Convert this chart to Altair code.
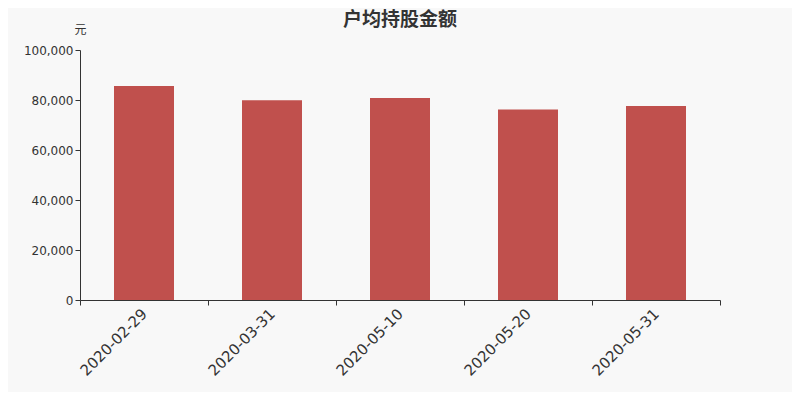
import altair as alt
import pandas as pd

dates = ["2020-02-29", "2020-03-31", "2020-05-10", "2020-05-20", "2020-05-31"]
values = [85600, 79900, 80800, 76200, 77600]

df = pd.DataFrame({"date": dates, "value": values})

FONT = "DejaVu Sans, Noto Sans CJK SC"

chart = alt.Chart(df).mark_bar(color="#c0504d", size=60).encode(
    x=alt.X("date:N", sort=dates, title=None,
            scale=alt.Scale(paddingInner=0, paddingOuter=0),
            axis=alt.Axis(labelAngle=-45, labelAlign="right", labelBaseline="middle",
                          labelFontSize=15, labelColor="#333", labelPadding=6,
                          tickBand="extent", domainColor="#333", tickColor="#333",
                          tickSize=5, labelFont=FONT)),
    y=alt.Y("value:Q", title="元",
            scale=alt.Scale(domain=[0, 100000], nice=False),
            axis=alt.Axis(values=[0, 20000, 40000, 60000, 80000, 100000], format=",.0f",
                          grid=False, labelFontSize=12, labelColor="#333", labelFont=FONT,
                          domainColor="#333", tickColor="#333", tickSize=5,
                          titleAngle=0, titleX=0, titleY=-21, titleAlign="center",
                          titleBaseline="middle", titleFontWeight="normal",
                          titleFontSize=12, titleColor="#333", titleFont=FONT)),
).properties(
    width=640, height=250,
    title=alt.TitleParams("户均持股金额", fontSize=19, fontWeight="bold", color="#333",
                          font="Noto Sans CJK SC, DejaVu Sans", anchor="middle", offset=-7),
    autosize=alt.AutoSizeParams(type="none"),
    padding={"left": 72, "top": 42, "right": 72, "bottom": 92},
).configure(background="#f8f8f8").configure_view(stroke=None)

chart.save("out.html", embed_options={"renderer": "svg", "actions": False})
